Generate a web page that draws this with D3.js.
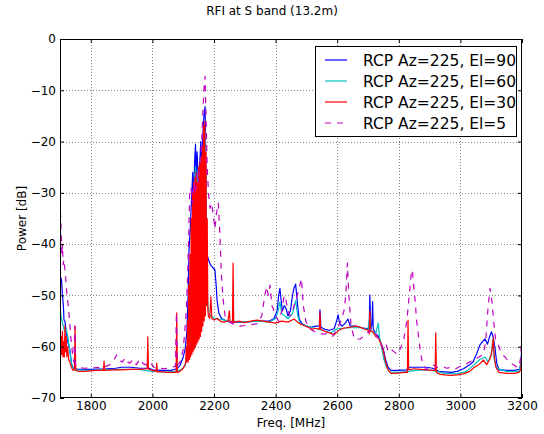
<!DOCTYPE html>
<html><head><meta charset="utf-8">
<script src="https://cdn.jsdelivr.net/npm/d3@7"></script>
<style>
html,body{margin:0;padding:0;background:#fff;}
text{font-family:"DejaVu Sans",sans-serif;}
</style></head>
<body>
<svg id="chart" width="544" height="434"></svg>
<script>
const titleText = "RFI at S band (13.2m)";
const xLabel = "Freq. [MHz]";
const yLabel = "Power [dB]";
const freqTicks = [1800, 2000, 2200, 2400, 2600, 2800, 3000, 3200];
const powerTicks = [0, -10, -20, -30, -40, -50, -60, -70];
const seriesNames = ["RCP Az=225, El=90", "RCP Az=225, El=60", "RCP Az=225, El=30", "RCP Az=225, El=5"];
const seriesColors = ["#0000ff", "#00bfbf", "#ff0000", "#bf00bf"];

const rcpEl90 = [[1700,-52],[1702,-46.4],[1705,-47],[1708,-50],[1711,-52],[1713,-54.8],[1716,-55],[1720,-57],[1725,-59],[1732,-60.6],[1738,-63.6],[1745,-64.3],[1760,-64.4],[1800,-64.4],[1850,-64.3],[1880,-64.2],[1900,-64],[1930,-64],[1960,-64.2],[1990,-64.2],[2000,-64.5],[2030,-64.6],[2060,-64.6],[2080,-64.3],[2090,-63.6],[2100,-62],[2106,-60.6],[2112,-57],[2116,-50],[2119,-41],[2122,-38],[2125,-34],[2128,-30],[2131,-26],[2134,-32],[2137,-24],[2140,-20.5],[2142,-28],[2145,-22],[2148,-26],[2151,-30],[2154,-24],[2157,-20],[2160,-24],[2163,-20],[2166,-16],[2169,-14],[2171,-13.2],[2173,-22],[2175,-35],[2177,-42],[2182,-43],[2188,-44],[2195,-44.5],[2203,-45],[2207,-48],[2210,-51],[2216,-53.5],[2225,-54.5],[2240,-55],[2260,-55.2],[2300,-55.2],[2340,-55],[2380,-55],[2395,-54.5],[2405,-53],[2410,-50],[2414,-48.6],[2418,-51],[2422,-53],[2428,-52],[2434,-52.5],[2440,-54],[2448,-53],[2455,-50],[2460,-48.5],[2465,-47.8],[2470,-51],[2476,-54.5],[2485,-55.5],[2500,-56],[2515,-56.2],[2530,-56],[2542,-56],[2544,-52.8],[2547,-56.2],[2560,-56.6],[2575,-56.8],[2590,-56.5],[2598,-55],[2603,-53.8],[2608,-55.5],[2615,-56],[2625,-55.5],[2635,-54.6],[2642,-56],[2660,-56],[2680,-56.3],[2700,-56.5],[2704,-56],[2706,-49.9],[2709,-56.5],[2713,-55.5],[2715,-51.2],[2717,-56.5],[2725,-57.5],[2735,-58],[2742,-59.3],[2750,-60.5],[2757,-62.5],[2765,-64],[2775,-64.6],[2800,-64.6],[2825,-64.5],[2835,-64],[2850,-64],[2870,-64],[2890,-64],[2910,-64.2],[2930,-64.8],[2950,-64.9],[2970,-65],[2990,-64.8],[3010,-64.3],[3030,-63.5],[3041,-63],[3052,-61.5],[3063,-59.7],[3072,-59],[3080,-58.5],[3088,-59.5],[3095,-58],[3101,-57.1],[3106,-58],[3112,-60.1],[3118,-63.2],[3125,-64.5],[3150,-64.6],[3175,-64.6],[3192,-64.4],[3197,-63],[3200,-58.5]];

const rcpEl60 = [[1700,-52],[1703,-54],[1707,-55],[1711,-56],[1715,-57],[1720,-56.5],[1725,-58],[1730,-60],[1735,-62.5],[1740,-64],[1750,-64.5],[1800,-64.6],[1850,-64.5],[1900,-64.4],[1950,-64.4],[2000,-64.8],[2050,-64.9],[2080,-64.8],[2095,-64.4],[2105,-63.8],[2112,-62.5],[2118,-60],[2122,-56],[2125,-50],[2128,-40],[2132,-32],[2136,-28],[2140,-25],[2144,-29],[2148,-26],[2152,-30],[2156,-27],[2160,-24],[2164,-28],[2168,-22],[2171,-18],[2174,-30],[2177,-45],[2180,-52],[2185,-53.8],[2200,-54.4],[2250,-55],[2300,-55.2],[2340,-55],[2380,-55.2],[2400,-54.5],[2408,-53],[2414,-51.3],[2420,-53.5],[2430,-54],[2440,-54.5],[2455,-53.5],[2465,-51],[2472,-54],[2480,-55.5],[2500,-56],[2540,-56.6],[2580,-57.3],[2600,-56.5],[2640,-56.3],[2680,-56.3],[2700,-56.7],[2706,-54],[2710,-57],[2725,-57.5],[2733,-55.4],[2738,-58.5],[2745,-60.5],[2752,-62.5],[2760,-64],[2770,-64.9],[2800,-65],[2830,-64.8],[2870,-64.5],[2910,-64.6],[2950,-65.2],[2990,-65.3],[3020,-64.8],[3045,-63.5],[3063,-62.5],[3080,-62],[3090,-63],[3100,-61.5],[3106,-58.3],[3110,-62.5],[3118,-64.2],[3150,-64.8],[3190,-64.8],[3197,-63.5],[3200,-60]];

const rcpEl30 = [[1700,-56],[1702,-62],[1704,-58],[1706,-61.5],[1708,-57],[1710,-62],[1712,-59],[1714,-62],[1716,-56],[1718,-61],[1720,-58],[1722,-62],[1725,-60],[1728,-62.5],[1732,-63],[1737,-64],[1742,-64.6],[1747,-64.5],[1749,-56],[1751,-64.6],[1760,-64.8],[1780,-64.8],[1800,-64.7],[1820,-64.6],[1841,-64.6],[1843,-62.8],[1845,-64.6],[1870,-64.5],[1900,-64.5],[1930,-64.4],[1960,-64.4],[1983,-64.3],[1985,-58.1],[1987,-64.4],[2000,-64.6],[2012,-64.8],[2014,-63.2],[2016,-64.9],[2030,-64.9],[2050,-65],[2077,-65],[2079,-53.4],[2081,-65],[2090,-64.8],[2100,-64.2],[2106,-63.5],[2108,-63],[2110,-60],[2112,-63],[2114,-55],[2116,-63],[2118,-48],[2120,-62.5],[2122,-42],[2124,-62],[2126,-35],[2128,-61.5],[2130,-30],[2132,-61],[2134,-28],[2136,-60.5],[2138,-27],[2140,-60],[2142,-26],[2144,-59.5],[2146,-28],[2148,-59],[2150,-25],[2152,-58.5],[2154,-24],[2156,-58],[2158,-23],[2160,-57],[2162,-21],[2164,-56],[2166,-17],[2168,-55],[2170,-16],[2172,-54],[2174,-22],[2176,-52],[2178,-35],[2180,-53],[2182,-54],[2186,-54.5],[2190,-50.3],[2193,-54.5],[2200,-54.8],[2210,-54.5],[2220,-55],[2230,-55.2],[2245,-55],[2250,-53],[2252,-55],[2260,-55.2],[2262,-43.7],[2264,-55.3],[2280,-55],[2300,-55.3],[2320,-55],[2340,-54.8],[2360,-55],[2380,-55.2],[2400,-55.4],[2420,-55],[2440,-55.2],[2460,-54.6],[2475,-55.4],[2490,-55.8],[2505,-56.2],[2520,-56.6],[2530,-56.4],[2542,-56.6],[2544,-53.4],[2546,-56.6],[2560,-57],[2575,-57.3],[2590,-57.7],[2605,-56.8],[2620,-56.4],[2640,-56.2],[2660,-56],[2675,-56.2],[2690,-56.6],[2700,-56.8],[2704,-57.5],[2706,-53],[2708,-57],[2715,-57],[2725,-58],[2735,-58.4],[2742,-59.5],[2750,-61],[2757,-63],[2765,-64.5],[2775,-65.2],[2790,-65.2],[2805,-65.1],[2820,-65],[2828,-65],[2830,-54.8],[2832,-64.5],[2850,-64.3],[2870,-64.4],[2890,-64.5],[2910,-64.6],[2918,-64.6],[2920,-57.3],[2922,-65],[2935,-65.4],[2950,-65.5],[2970,-65.6],[2990,-65.5],[3010,-65.3],[3030,-64.8],[3045,-64],[3060,-63.5],[3075,-62.6],[3085,-63.5],[3095,-62.5],[3102,-61],[3107,-58.3],[3110,-62],[3115,-64],[3125,-65],[3150,-65.2],[3175,-65.2],[3190,-65],[3196,-64.5],[3199,-62],[3200,-60]];

const rcpEl5 = [[1700,-35],[1702,-34.3],[1704,-38],[1706,-42],[1708,-40],[1710,-44],[1713,-43],[1716,-45],[1719,-47],[1723,-50.3],[1727,-52],[1731,-55],[1735,-58],[1740,-61],[1745,-63],[1748,-56],[1750,-63.5],[1755,-64],[1780,-64.2],[1810,-64.1],[1840,-64],[1860,-63.6],[1875,-62.6],[1884,-61.6],[1893,-62.6],[1902,-63],[1911,-62.2],[1920,-63],[1927,-63.2],[1937,-62.5],[1948,-63.5],[1960,-62.4],[1970,-63.3],[1982,-63.6],[1992,-63],[2005,-64],[2020,-64.2],[2040,-64.3],[2060,-64],[2075,-63.8],[2078,-53.4],[2081,-63.6],[2090,-63],[2100,-60.6],[2105,-57],[2110,-53],[2114,-47],[2118,-38],[2121,-30],[2125,-29],[2130,-32],[2135,-28],[2140,-30],[2145,-26],[2150,-28],[2155,-24],[2160,-20],[2164,-14],[2168,-9],[2171,-7.3],[2174,-15],[2178,-25],[2182,-30],[2187,-33],[2192,-32],[2197,-34],[2203,-37],[2208,-34],[2214,-32],[2219,-38],[2224,-46],[2230,-51],[2236,-54],[2245,-55],[2260,-55.5],[2284,-56],[2310,-55.8],[2340,-55.5],[2355,-54],[2365,-50],[2371,-48.3],[2376,-50],[2382,-48],[2388,-52],[2395,-53],[2400,-54],[2410,-55],[2420,-53],[2428,-50],[2434,-51],[2440,-53],[2448,-54],[2455,-53],[2465,-51],[2475,-49],[2484,-46.7],[2490,-52],[2498,-55],[2510,-56.5],[2525,-57],[2545,-57.5],[2565,-57.5],[2585,-58],[2600,-56.5],[2612,-55],[2622,-53],[2628,-50],[2633,-43.7],[2638,-50],[2645,-56],[2656,-58.5],[2675,-58.5],[2695,-57.5],[2710,-56.5],[2725,-57.5],[2740,-59],[2750,-60.5],[2758,-59.5],[2766,-61],[2775,-60.5],[2785,-61],[2795,-61.5],[2804,-60.5],[2815,-59],[2826,-55],[2834,-50],[2840,-46],[2844,-45],[2848,-48],[2853,-51],[2858,-55],[2863,-57.5],[2870,-61],[2878,-63.5],[2890,-64.5],[2900,-64],[2910,-63.5],[2925,-64],[2940,-63.8],[2955,-64.2],[2970,-64],[2985,-64.3],[3000,-63.8],[3015,-63.5],[3030,-63],[3045,-62.5],[3060,-62],[3075,-61.5],[3082,-59],[3089,-53],[3096,-48.6],[3102,-51],[3108,-55],[3114,-58.5],[3120,-59],[3128,-60.5],[3135,-61.5],[3145,-62],[3155,-62.8],[3165,-63.3],[3175,-63.6],[3183,-64],[3190,-64],[3196,-62],[3200,-55.8]];

const seriesData = [rcpEl90, rcpEl60, rcpEl30, rcpEl5];
const seriesDash = [null, null, null, "6,6"];

const W = 544, H = 434;
const L = 60, R = 522, T = 39, B = 398;
const svg = d3.select("#chart");
const x = d3.scaleLinear().domain([1700, 3200]).range([L, R]);
const y = d3.scaleLinear().domain([-70, 0]).range([B, T]);
const fmt = d => (d < 0 ? "\u2212" + Math.abs(d) : String(d));

svg.append("rect").attr("width", W).attr("height", H).attr("fill", "#fff");

// grid
const grid = svg.append("g").attr("stroke", "#888").attr("stroke-width", 1).attr("stroke-dasharray", "1,2");
grid.selectAll(".gx").data(freqTicks.filter(d => d < 3200)).enter().append("line")
  .attr("x1", d => Math.round(x(d)) + 0.5).attr("x2", d => Math.round(x(d)) + 0.5).attr("y1", T).attr("y2", B);
grid.selectAll(".gy").data(powerTicks.filter(d => d < 0 && d > -70)).enter().append("line")
  .attr("y1", d => Math.round(y(d)) + 0.5).attr("y2", d => Math.round(y(d)) + 0.5).attr("x1", L).attr("x2", R);

// clip
svg.append("defs").append("clipPath").attr("id", "clip")
  .append("rect").attr("x", L).attr("y", T).attr("width", R - L).attr("height", B - T);

const line = d3.line().x(d => x(d[0])).y(d => y(d[1]));
const plot = svg.append("g").attr("clip-path", "url(#clip)");
seriesData.forEach((s, i) => {
  plot.append("path").datum(s).attr("d", line).attr("fill", "none")
    .attr("stroke", seriesColors[i]).attr("stroke-width", 1.2)
    .attr("stroke-linejoin", "round")
    .attr("stroke-dasharray", seriesDash[i]);
});

// axes
function styleAxis(g) {
  g.select(".domain").remove();
  g.selectAll(".tick line").attr("stroke", "#000").attr("stroke-width", 1);
  g.selectAll(".tick text").attr("fill", "#000").style("font-size", "12px").style("font-family", "DejaVu Sans");
}
svg.append("g").attr("transform", `translate(0,${B})`)
  .call(d3.axisBottom(x).tickValues(freqTicks).tickSizeInner(-4).tickSizeOuter(0).tickPadding(3.5).tickFormat(fmt))
  .call(styleAxis);
svg.append("g").attr("transform", `translate(0,${T})`)
  .call(d3.axisTop(x).tickValues(freqTicks).tickSizeInner(-4).tickSizeOuter(0).tickFormat(""))
  .call(styleAxis);
svg.append("g").attr("transform", `translate(${L},0)`)
  .call(d3.axisLeft(y).tickValues(powerTicks).tickSizeInner(-4).tickSizeOuter(0).tickPadding(4).tickFormat(fmt))
  .call(styleAxis);
svg.append("g").attr("transform", `translate(${R},0)`)
  .call(d3.axisRight(y).tickValues(powerTicks).tickSizeInner(-4).tickSizeOuter(0).tickFormat(""))
  .call(styleAxis);

// frame
svg.append("rect").attr("x", L + 0.5).attr("y", T + 0.5).attr("width", R - L - 1).attr("height", B - T - 1)
  .attr("fill", "none").attr("stroke", "#000").attr("stroke-width", 1);

// labels
svg.append("text").attr("x", 272).attr("y", 15).attr("text-anchor", "middle")
  .style("font-size", "12px").text(titleText);
svg.append("text").attr("x", (L + R) / 2).attr("y", 427).attr("text-anchor", "middle")
  .style("font-size", "12px").text(xLabel);
svg.append("text").attr("transform", `translate(26,${(T + B) / 2}) rotate(-90)`).attr("text-anchor", "middle")
  .style("font-size", "12px").text(yLabel);

// legend
const lg = svg.append("g");
lg.append("rect").attr("x", 315.5).attr("y", 46.5).attr("width", 201).attr("height", 90)
  .attr("fill", "#fff").attr("stroke", "#000").attr("stroke-width", 1);
seriesNames.forEach((n, i) => {
  const yy = 60 + i * 21;
  lg.append("line").attr("x1", 325).attr("x2", 347).attr("y1", yy).attr("y2", yy)
    .attr("stroke", seriesColors[i]).attr("stroke-width", 1.2).attr("stroke-dasharray", seriesDash[i]);
  lg.append("text").attr("x", 363).attr("y", yy + 5.5).style("font-size", "15.5px").attr("fill", "#000").text(n);
});
</script>
</body></html>
